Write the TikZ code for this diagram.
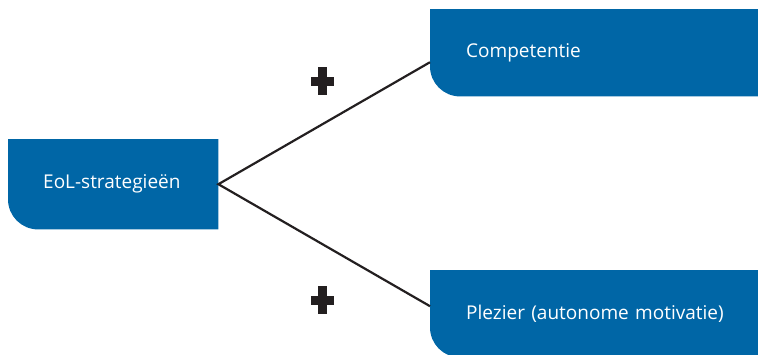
\documentclass[tikz,border=0pt]{standalone}
\usepackage{fontspec}
\setmainfont{Open Sans}
\usetikzlibrary{backgrounds}
\definecolor{boxblue}{HTML}{0066A6}
\definecolor{inkdark}{HTML}{231F20}
\begin{document}
\begin{tikzpicture}[x=1pt,y=-1pt,
  box/.style={rectangle, inner sep=0pt, anchor=north west, text=white,
    font=\fontsize{19}{22}\selectfont, align=left},
  link/.style={draw=inkdark, line width=2.2pt},
  plus/.style={fill=inkdark}]
\useasboundingbox (0,0) rectangle (758,354);
\node[box, minimum height=90pt, text width=210pt] (eol) at (8,139) {\hspace*{35pt}EoL-strategieën};
\node[box, minimum height=87pt, text width=330pt] (comp) at (430,9) {\hspace*{36pt}Competentie};
\node[box, minimum height=87pt, text width=330pt] (plez) at (430,270) {\hspace*{36pt}Plezier (autonome motivatie)};
\begin{scope}[on background layer]
  \foreach \n in {eol,comp,plez}{
    \fill[boxblue] (\n.north west) -- (\n.north east) -- (\n.south east)
      -- ([xshift=30pt]\n.south west) arc[start angle=270, end angle=180, radius=30pt] -- cycle;
  }
\end{scope}
\coordinate (c1) at ([yshift=-9.5pt]comp.west);
\coordinate (c2) at ([yshift=7.5pt]plez.west);
\draw[link] (c1) -- (eol.east) -- (c2);
\fill[plus] (310.5,76.5) rectangle (333.5,85.5);
\fill[plus] (317.5,67) rectangle (326.5,95);
\fill[plus] (310.5,295.5) rectangle (333.5,304.5);
\fill[plus] (317.5,286) rectangle (326.5,314);
\end{tikzpicture}
\end{document}
